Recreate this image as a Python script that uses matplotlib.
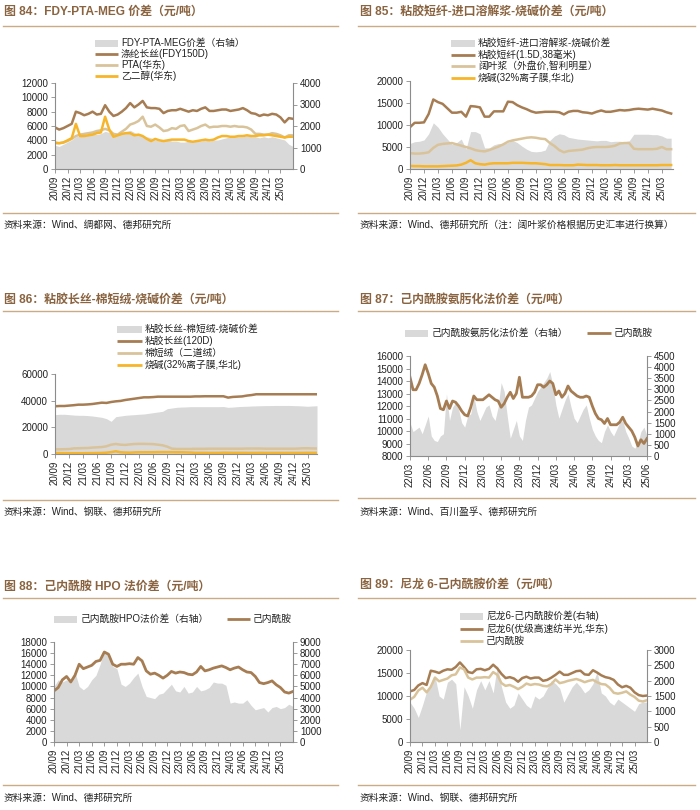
import numpy as np
import matplotlib
matplotlib.use('Agg')
import matplotlib.pyplot as plt
from matplotlib.lines import Line2D
from matplotlib.patches import Rectangle

plt.rcParams['font.family'] = ['Liberation Sans', 'Noto Sans CJK SC', 'DejaVu Sans']

W, H = 700, 810
BROWN = '#A67C52'
TAN = '#D9C39A'
ORANGE = '#F6B52A'
GRAY = '#D9D9D9'
TITLE_C = '#8A6440'
RULE_C = '#C9AB85'
SPINE_C = '#8C8C8C'
TEXT_C = '#222222'

# ---------------- tick labels ----------------
ticks_2009 = ['20/09', '20/12', '21/03', '21/06', '21/09', '21/12', '22/03', '22/06', '22/09',
              '22/12', '23/03', '23/06', '23/09', '23/12', '24/03', '24/06', '24/09', '24/12', '25/03']
ticks_2203 = ['22/03', '22/06', '22/09', '22/12', '23/03', '23/06', '23/09', '23/12', '24/03',
              '24/06', '24/09', '24/12', '25/03', '25/06']

# ---------------- Fig 84 (monthly from 20/09) ----------------
fdy = [5800, 5500, 5700, 6000, 6300, 8000, 7800, 7500, 7700, 8000,
       7600, 7700, 8900, 8000, 7400, 7600, 8000, 8500, 9200, 8600,
       9000, 9500, 8600, 8500, 8500, 8400, 7800, 8100, 8200, 8200,
       8400, 8200, 8000, 8200, 8100, 8400, 8600, 8100, 8100, 8200,
       8300, 8300, 8100, 8200, 8300, 8500, 8200, 7800, 7700, 7400,
       7600, 7500, 7700, 7600, 7200, 6500, 7100, 7000]
pta = [3600, 3600, 3700, 3900, 4200, 4600, 4800, 4900, 5000, 5100,
       5300, 5400, 5600, 5400, 4900, 4800, 5200, 5600, 6200, 6400,
       6700, 7300, 6000, 5900, 6200, 5800, 5300, 5400, 5700, 5600,
       6000, 6100, 5300, 5500, 5700, 6000, 6200, 5800, 5900, 5900,
       6000, 6000, 5900, 6000, 5900, 5900, 5800, 5500, 4900, 4900,
       4800, 4800, 5000, 4900, 4700, 4400, 4700, 4700]
meg = [3700, 3600, 3700, 4000, 4300, 6300, 4600, 4600, 4700, 4800,
       5000, 5100, 7300, 5500, 4500, 4700, 4900, 5000, 5000, 4700,
       4800, 4600, 4200, 3900, 4200, 4000, 3900, 4000, 4100, 4100,
       4100, 4100, 3900, 3800, 3900, 4000, 4100, 4000, 4100, 4400,
       4600, 4600, 4500, 4500, 4600, 4600, 4700, 4600, 4600, 4700,
       4700, 4800, 4700, 4600, 4500, 4400, 4500, 4500]
spread84 = [1100, 1050, 1150, 1250, 1350, 1500, 1550, 1550, 1600, 1650,
            1600, 1650, 1750, 1700, 1500, 1600, 1700, 1750, 1800, 1700,
            1600, 1550, 1500, 1450, 1350, 1300, 1350, 1350, 1300, 1300,
            1250, 1250, 1300, 1300, 1350, 1300, 1350, 1300, 1350, 1350,
            1400, 1450, 1500, 1500, 1500, 1500, 1550, 1500, 1500, 1450,
            1500, 1450, 1500, 1450, 1400, 1350, 1150, 1050]

# ---------------- Fig 85 ----------------
vsf = [9500, 10500, 10500, 10600, 12500, 15800, 15200, 14800, 13800, 12800,
       12800, 13000, 11900, 14300, 14200, 14000, 11900, 11900, 13100, 13100,
       13100, 15300, 15200, 14500, 14000, 13600, 13100, 12800, 12900, 13000,
       13000, 13000, 12900, 12400, 13000, 13200, 13200, 12900, 12800, 12600,
       13000, 13300, 13000, 13000, 13200, 13400, 13300, 13400, 13600, 13700,
       13600, 13500, 13700, 13500, 13300, 12900, 12600]
pulp = [3600, 3500, 3500, 3600, 3800, 4800, 5500, 5700, 5800, 5900,
        5600, 5300, 5000, 4700, 4300, 4100, 4000, 4300, 4700, 5100,
        5600, 6200, 6500, 6700, 6900, 7100, 7200, 7100, 6900, 6800,
        5900, 5200, 4300, 3800, 4100, 4200, 4300, 4400, 4700, 4900,
        5000, 5000, 5000, 5100, 5300, 5800, 5900, 5900, 4600, 4500,
        4500, 4500, 4500, 4600, 5000, 4500, 4500]
caustic = [700, 650, 650, 600, 600, 600, 600, 650, 700, 750,
           800, 1000, 1400, 2000, 1300, 1100, 1000, 1200, 1300, 1300,
           1300, 1300, 1400, 1400, 1400, 1350, 1300, 1300, 1200, 1100,
           900, 900, 900, 850, 850, 850, 1000, 950, 900, 900,
           900, 850, 850, 850, 900, 850, 850, 850, 850, 850,
           850, 850, 850, 850, 900, 900, 900]
spread85 = [5800, 6200, 6300, 6600, 8000, 10500, 9500, 8000, 6800, 5600,
            6000, 6800, 4500, 8500, 8500, 8000, 4800, 4800, 5500, 5800,
            5800, 6000, 6500, 6000, 5200, 4500, 4000, 3900, 4000, 4300,
            6500, 7500, 8000, 7800, 7200, 7000, 6800, 6700, 6600, 6500,
            6400, 6500, 6500, 6200, 6300, 6300, 6200, 6400, 7900, 7900,
            7900, 7900, 7800, 7800, 7500, 7000, 7000]

# ---------------- Fig 86 ----------------
vfy = [35800, 36000, 36000, 36300, 36600, 37000, 37000, 37200, 37500, 38000,
       38500, 38300, 39000, 39500, 39800, 40500, 41000, 41500, 42000, 42500,
       42500, 42700, 43000, 43000, 43000, 43000, 43000, 43000, 43000, 43000,
       43200, 43200, 43300, 43300, 43300, 43300, 43300, 42300, 42800, 43000,
       43200, 43800, 44200, 44800, 44800, 44800, 44800, 44800, 44800, 44800,
       44800, 44800, 44800, 44800, 44800, 44800, 44800]
linter = [3500, 3500, 3600, 3700, 4200, 4300, 4400, 4500, 4800, 5000,
          5200, 5800, 7000, 7500, 7000, 6800, 7200, 7500, 7600, 7600,
          7500, 7400, 7000, 6500, 5500, 4000, 3800, 3800, 3800, 3800,
          3900, 3900, 3900, 4000, 4000, 4000, 4000, 4000, 4000, 4000,
          4000, 4100, 4100, 4100, 4100, 4000, 4000, 4000, 4000, 4000,
          4000, 4000, 4100, 4300, 4300, 4200, 4100]
spread86 = [29500, 29800, 29800, 29500, 29200, 29000, 29000, 28800, 28500, 28000,
            27500, 26500, 24500, 28000, 28500, 29000, 29300, 29500, 29800, 30000,
            30500, 31000, 31500, 32000, 34000, 34500, 35000, 35200, 35300, 35500,
            35500, 35500, 35500, 35500, 35500, 35500, 35600, 35000, 35200, 35500,
            35700, 35800, 36000, 36100, 36200, 36300, 36300, 36400, 36400, 36400,
            36400, 36300, 36200, 36000, 35800, 36000, 36200]

# ---------------- Fig 87 (half-monthly from 22/03) ----------------
cpl87 = [14300, 13300, 13300, 13800, 14500, 15300, 14600, 13800, 13500, 12800,
         11800, 11700, 12400, 11800, 12400, 12300, 12000, 11600, 11300, 11200,
         11900, 12800, 12500, 12500, 12500, 12700, 12900, 12700, 12500, 12400,
         11900, 12200, 12700, 13100, 12600, 13000, 14300, 12700, 12700, 12700,
         12800, 13100, 13700, 13700, 13500, 13700, 14000, 13800, 12900, 13200,
         12700, 13000, 13600, 13200, 13000, 12800, 12700, 12700, 12800, 12700,
         12000, 11400, 11000, 10900, 10600, 11000, 10500, 10500, 10500, 10700,
         11100, 10600, 10300, 10000, 9500, 8800, 9300, 9000, 9400]
spread87 = [1500, 1100, 1200, 1300, 1000, 1400, 1800, 900, 700, 650,
            900, 1000, 2800, 1600, 2200, 2400, 2100, 1500, 1300, 1800,
            1900, 2700, 2000, 1600, 1900, 2200, 2300, 1800, 1600, 2200,
            3300, 2900, 1800, 800, 1200, 1600, 900, 700, 1600, 2200,
            2300, 2600, 2900, 3100, 3300, 3500, 3800, 3200, 2300, 1700,
            2100, 2500, 2800, 2200, 1700, 1500, 1800, 2100, 2300, 1700,
            1200, 900, 700, 600, 1100, 1400, 1100, 900, 1200, 1500,
            1600, 1100, 800, 450, 350, 600, 1100, 1300, 900]

# ---------------- Fig 88 / 89 ----------------
cpl = [9200, 9800, 11200, 11800, 10800, 12000, 14000, 13200, 13500, 13800,
       14500, 14700, 16200, 15800, 14000, 13600, 14000, 14000, 14100, 14000,
       15200, 14600, 12800, 12200, 12400, 12000, 11500, 12000, 12700, 12400,
       12600, 12500, 12200, 12100, 12600, 13600, 12800, 13000, 13300, 13500,
       13700, 13400, 13000, 13300, 13500, 13000, 12600, 12500, 11800, 10700,
       10500, 10700, 11000, 10300, 9800, 9000, 8800, 9100]
spread88 = [5000, 5600, 5400, 5600, 5400, 6300, 5000, 4700, 5000, 5600,
            6000, 7000, 8200, 7800, 6800, 6600, 5200, 5000, 5300, 5800,
            6200, 5000, 4100, 4000, 3900, 4300, 4400, 4800, 5200, 4600,
            4500, 5000, 4400, 4500, 5000, 4600, 4700, 4900, 5400, 5300,
            5300, 5100, 3500, 3600, 3500, 3500, 3800, 3300, 2900, 3000,
            3100, 2700, 3100, 3200, 3000, 3100, 3400, 3200]
nylon6 = [11000, 11300, 12300, 12800, 12400, 15500, 15300, 15000, 15500, 15800,
          15700, 16300, 17300, 16300, 15200, 15000, 15800, 15900, 15600, 15900,
          16800, 16000, 14800, 13900, 14100, 13800, 13100, 13900, 14200, 13800,
          14000, 14000, 13300, 13500, 14000, 14600, 15300, 14600, 14600, 15000,
          15400, 15500, 14700, 14600, 15600, 15100, 14500, 14100, 13900, 13500,
          12500, 11900, 12200, 11800, 10800, 10200, 10000, 10100]
spread89 = [1300, 1100, 800, 1200, 1650, 1900, 2150, 1500, 1400, 1950,
            2050, 1900, 400, 1800, 1500, 1100, 1700, 2000, 1700, 2000,
            1600, 2500, 1800, 1300, 1100, 1200, 1600, 1400, 1200, 1100,
            1500, 1400, 1500, 1750, 2000, 1900, 1750, 1300, 1550, 1800,
            1950, 1800, 1600, 1700, 1900, 2300, 1600, 1500, 1300, 1200,
            1400, 1300, 1200, 1100, 1000, 1250, 1300, 1300]

fig = plt.figure(figsize=(W / 100, H / 100), dpi=100)


def rect(l, t, r, b):
    return [l / W, 1 - b / H, (r - l) / W, (b - t) / H]


def fx(x):
    return x / W


def fy(y):
    return 1 - y / H


def frame(x0, x1, xt, title, yt, yr1, yr2, source, ys):
    fig.text(fx(xt), fy(yt), title, fontsize=8.6, fontweight='bold', color=TITLE_C,
             va='center', ha='left')
    for yy in (yr1, yr2):
        fig.add_artist(Line2D([fx(x0), fx(x1)], [fy(yy), fy(yy)], color=RULE_C, lw=1.0,
                              transform=fig.transFigure))
    fig.text(fx(xt), fy(ys), source, fontsize=7, color=TEXT_C, va='center', ha='left')


def legend_rows(entries, ys, x0, x1, xt):
    for (kind, color, label), y in zip(entries, ys):
        if kind == 'patch':
            fig.add_artist(Rectangle((fx(x0), fy(y + 3.5)), (x1 - x0) / W, 7 / H,
                                     transform=fig.transFigure, color=color, lw=0))
        else:
            fig.add_artist(Line2D([fx(x0), fx(x1)], [fy(y), fy(y)], color=color, lw=2.0,
                                  transform=fig.transFigure, solid_capstyle='butt'))
        fig.text(fx(xt), fy(y), label, fontsize=7, color=TEXT_C, va='center', ha='left')


def style(ax, axr=None):
    ax.spines['top'].set_visible(False)
    ax.spines['right'].set_visible(False)
    for s in ('left', 'bottom'):
        ax.spines[s].set_color(SPINE_C)
        ax.spines[s].set_linewidth(0.8)
    ax.tick_params(axis='both', labelsize=7, length=3, width=0.6, color=SPINE_C,
                   pad=2, labelcolor=TEXT_C)
    if axr is not None:
        for s in ('top', 'left', 'bottom'):
            axr.spines[s].set_visible(False)
        axr.spines['right'].set_color(SPINE_C)
        axr.spines['right'].set_linewidth(0.8)
        axr.tick_params(axis='y', labelsize=7, length=3, width=0.6, color=SPINE_C,
                        pad=2, labelcolor=TEXT_C)
        ax.set_zorder(axr.get_zorder() + 1)
        ax.patch.set_visible(False)


def xticks(ax, labels, step=3):
    ax.set_xticks(np.arange(len(labels)) * step)
    ax.set_xticklabels(labels, rotation=90)


# ======== Fig 84 ========
frame(3, 338, 4, '图 84：FDY-PTA-MEG 价差（元/吨）', 12, 25.5, 213,
      '资料来源：Wind、绸都网、德邦研究所', 225)
ax = fig.add_axes(rect(55, 83, 293, 169))
axr = ax.twinx()
x = np.arange(len(fdy))
axr.fill_between(x, spread84, color=GRAY, lw=0)
ax.plot(x, fdy, color=BROWN, lw=1.8)
ax.plot(x, pta, color=TAN, lw=1.8)
ax.plot(x, meg, color=ORANGE, lw=1.8)
ax.set_ylim(0, 12000)
ax.set_yticks(np.arange(0, 12001, 2000))
axr.set_ylim(0, 4000)
axr.set_yticks(np.arange(0, 4001, 1000))
ax.set_xlim(0, len(fdy) - 1)
xticks(ax, ticks_2009)
style(ax, axr)
legend_rows([('patch', GRAY, 'FDY-PTA-MEG价差（右轴）'),
             ('line', BROWN, '涤纶长丝(FDY150D)'),
             ('line', TAN, 'PTA(华东)'),
             ('line', ORANGE, '乙二醇(华东)')],
            [43, 54, 65, 76], 95, 118, 121)

# ======== Fig 85 ========
frame(358, 695, 360, '图 85：粘胶短纤-进口溶解浆-烧碱价差（元/吨）', 12, 25.5, 213,
      '资料来源：Wind、德邦研究所（注：阔叶浆价格根据历史汇率进行换算）', 225)
ax = fig.add_axes(rect(410, 81, 673, 169))
x = np.arange(len(vsf))
ax.fill_between(x, spread85, color=GRAY, lw=0)
ax.plot(x, vsf, color=BROWN, lw=1.8)
ax.plot(x, pulp, color=TAN, lw=1.8)
ax.plot(x, caustic, color=ORANGE, lw=1.8)
ax.set_ylim(0, 20000)
ax.set_yticks(np.arange(0, 20001, 5000))
ax.set_xlim(0, len(vsf) - 0.6)
xticks(ax, ticks_2009)
style(ax)
legend_rows([('patch', GRAY, '粘胶短纤-进口溶解浆-烧碱价差'),
             ('line', BROWN, '粘胶短纤(1.5D,38毫米)'),
             ('line', TAN, '阔叶浆（外盘价,智利明星）'),
             ('line', ORANGE, '烧碱(32%离子膜,华北)')],
            [43, 55, 66, 78], 451, 475, 478)

# ======== Fig 86 ========
frame(3, 338, 4, '图 86：粘胶长丝-棉短绒-烧碱价差（元/吨）', 300, 311, 500,
      '资料来源：Wind、钢联、德邦研究所', 512)
ax = fig.add_axes(rect(55, 374, 317, 454))
x = np.arange(len(vfy))
ax.fill_between(x, spread86, color=GRAY, lw=0)
ax.plot(x, vfy, color=BROWN, lw=1.8)
ax.plot(x, linter, color=TAN, lw=1.8)
ax.plot(x, caustic, color=ORANGE, lw=1.8)
ax.set_ylim(0, 60000)
ax.set_yticks(np.arange(0, 60001, 20000))
ax.set_xlim(0, len(vfy) - 1)
xticks(ax, ticks_2009)
style(ax)
legend_rows([('patch', GRAY, '粘胶长丝-棉短绒-烧碱价差'),
             ('line', BROWN, '粘胶长丝(120D)'),
             ('line', TAN, '棉短绒（二道绒）'),
             ('line', ORANGE, '烧碱(32%离子膜,华北)')],
            [329, 341, 353, 365], 117, 142, 145)

# ======== Fig 87 ========
frame(358, 695, 360, '图 87：己内酰胺氨肟化法价差（元/吨）', 300, 311, 498,
      '资料来源：Wind、百川盈孚、德邦研究所', 512)
ax = fig.add_axes(rect(410, 356, 647, 456))
axr = ax.twinx()
x = np.arange(len(cpl87)) * 0.5
axr.fill_between(x, spread87, color=GRAY, lw=0)
ax.plot(x, cpl87, color=BROWN, lw=2.0)
ax.set_ylim(8000, 16000)
ax.set_yticks(np.arange(8000, 16001, 1000))
axr.set_ylim(0, 4500)
axr.set_yticks(np.arange(0, 4501, 500))
ax.set_xlim(0, x[-1])
xticks(ax, ticks_2203)
style(ax, axr)
legend_rows([('patch', GRAY, '己内酰胺氨肟化法价差（右轴）')], [333], 405, 428, 432)
legend_rows([('line', BROWN, '己内酰胺')], [333], 587, 611, 614)

# ======== Fig 88 ========
frame(3, 338, 4, '图 88：己内酰胺 HPO 法价差（元/吨）', 587, 598, 785,
      '资料来源：Wind、德邦研究所', 798)
ax = fig.add_axes(rect(54, 642, 293, 742))
axr = ax.twinx()
x = np.arange(len(cpl))
axr.fill_between(x, spread88, color=GRAY, lw=0)
ax.plot(x, cpl, color=BROWN, lw=2.0)
ax.set_ylim(0, 18000)
ax.set_yticks(np.arange(0, 18001, 2000))
axr.set_ylim(0, 9000)
axr.set_yticks(np.arange(0, 9001, 1000))
ax.set_xlim(0, len(cpl) - 1)
xticks(ax, ticks_2009)
style(ax, axr)
legend_rows([('patch', GRAY, '己内酰胺HPO法价差（右轴）')], [619], 54, 77, 81)
legend_rows([('line', BROWN, '己内酰胺')], [619], 227, 250, 253)

# ======== Fig 89 ========
frame(358, 695, 360, '图 89：尼龙 6-己内酰胺价差（元/吨）', 585, 598, 785,
      '资料来源：Wind、钢联、德邦研究所', 798)
ax = fig.add_axes(rect(410, 650, 647, 742))
axr = ax.twinx()
x = np.arange(len(nylon6))
axr.fill_between(x, spread89, color=GRAY, lw=0)
ax.plot(x, nylon6, color=BROWN, lw=1.8)
ax.plot(x, cpl, color=TAN, lw=1.8)
ax.set_ylim(0, 20000)
ax.set_yticks(np.arange(0, 20001, 5000))
axr.set_ylim(0, 3000)
axr.set_yticks(np.arange(0, 3001, 500))
ax.set_xlim(0, len(nylon6) - 1)
xticks(ax, ticks_2009)
style(ax, axr)
legend_rows([('patch', GRAY, '尼龙6-己内酰胺价差(右轴)'),
             ('line', BROWN, '尼龙6(优级高速纺半光,华东)'),
             ('line', TAN, '己内酰胺')],
            [616, 629, 641], 460, 483, 486)

fig.savefig('out.png', dpi=100)
